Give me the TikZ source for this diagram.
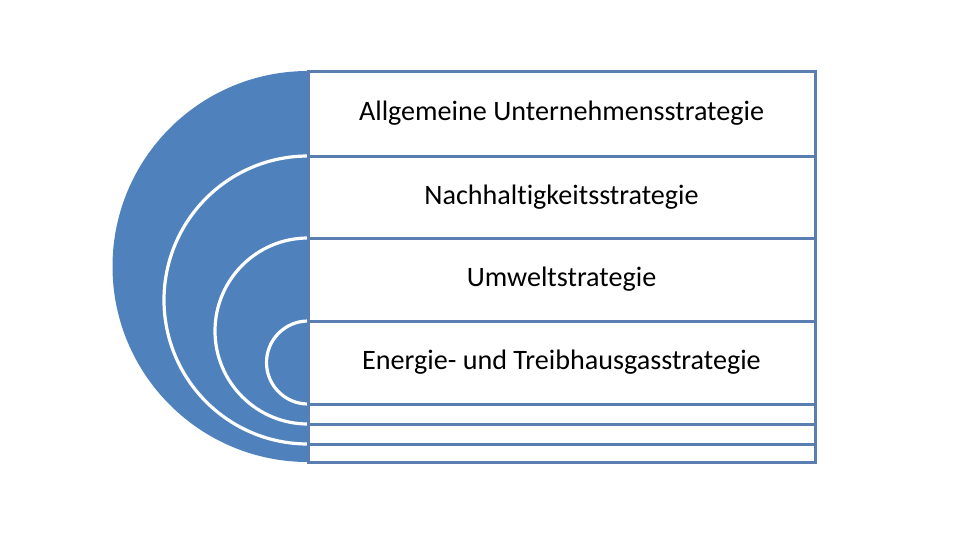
\documentclass[tikz,border=0pt]{standalone}
\usepackage{fontspec}
\setmainfont{Carlito}[Ligatures={NoCommon}]
\definecolor{fillblue}{HTML}{4F81BD}
\definecolor{lineblue}{HTML}{5A7EB0}
\tikzset{
  rowbox/.style={draw=lineblue, line width=2.25pt, fill=white, rectangle,
    inner sep=0pt, outer sep=0pt, minimum width=380.25pt, font=\fontsize{21.1}{24}\selectfont},
  whitearc/.style={draw=white, line width=2.4pt}
}
\begin{document}
\begin{tikzpicture}[x=0.75pt,y=0.75pt]
\useasboundingbox (0,0) rectangle (960,-540);
% outer half disc
\fill[fillblue] (308,-71) arc[start angle=90, end angle=270, radius=195.5] -- cycle;
% nested white arcs
\draw[whitearc] (308,-156) arc[start angle=90, end angle=270, radius=144];
\draw[whitearc] (308,-238) arc[start angle=90, end angle=270, radius=93];
\draw[whitearc] (308,-321) arc[start angle=90, end angle=270, radius=41.5];
% rows
\node[rowbox, minimum height=63.75pt] (r1) at (561.5,-113.5) {Allgemeine Unternehmensstrategie};
\node[rowbox, minimum height=61.5pt] (r2) at (561.5,-197) {Nachhaltigkeitsstrategie};
\node[rowbox, minimum height=62.25pt] (r3) at (561.5,-279.5) {Umweltstrategie};
\node[rowbox, minimum height=62.25pt] (r4) at (561.5,-362.5) {Energie- und Treibhausgasstrategie};
\node[rowbox, minimum height=15pt] (s1) at (561.5,-414) {};
\node[rowbox, minimum height=15pt] (s2) at (561.5,-434) {};
\node[rowbox, minimum height=13.5pt] (s3) at (561.5,-453) {};
\end{tikzpicture}
\end{document}
